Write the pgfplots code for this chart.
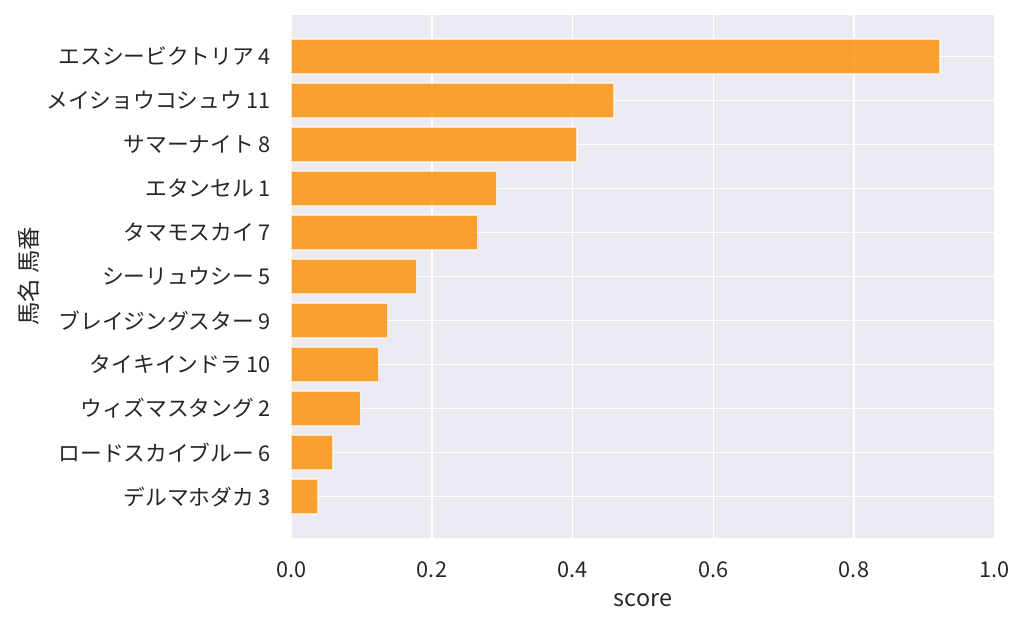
\documentclass[border=0pt]{standalone}
\usepackage{fontspec}
\setmainfont{Noto Sans CJK JP}
\usepackage{pgfplots}
\pgfplotsset{compat=1.18}
\definecolor{bgc}{RGB}{234,234,242}
\definecolor{barc}{RGB}{252,147,17}
\definecolor{txtc}{RGB}{38,38,38}
\begin{document}
\begin{tikzpicture}[x=1pt,y=1pt]
\path[use as bounding box] (0,0) rectangle (768,470.25);
\begin{axis}[
  at={(218.5pt,66.75pt)}, anchor=south west,
  scale only axis, width=527.5pt, height=392.25pt,
  xmin=0, xmax=1, ymin=-0.94, ymax=10.94, y dir=reverse,
  xbar, bar width=0.8,
  axis background/.style={fill=bgc},
  axis line style={draw=none},
  major tick length=0pt,
  grid=major, major grid style={white, line width=1.1pt},
  xtick={0,0.2,0.4,0.6,0.8,1.0},
  xticklabels={0.0,0.2,0.4,0.6,0.8,1.0},
  ytick={0,1,2,3,4,5,6,7,8,9,10},
  yticklabels={{エスシービクトリア 4},{メイショウコシュウ 11},{サマーナイト 8},{エタンセル 1},{タマモスカイ 7},{シーリュウシー 5},{ブレイジングスター 9},{タイキインドラ 10},{ウィズマスタング 2},{ロードスカイブルー 6},{デルマホダカ 3}},
  ticklabel style={font=\fontsize{16.3}{19}\selectfont, text=txtc},
  xticklabel style={anchor=center, inner sep=0pt, yshift=-23.5pt},
  yticklabel style={anchor=east, inner sep=0pt, xshift=-15pt},
  label style={font=\fontsize{17.5}{21}\selectfont, text=txtc},
  xlabel={score},
  ylabel={馬名 馬番},
  xlabel style={at={(axis description cs:0.5,-0.1185)}, anchor=center},
  ylabel style={at={(axis description cs:-0.3736,0.5)}, anchor=center},
]
\addplot[fill=barc, fill opacity=0.85, draw=white, draw opacity=0.65, line width=1.1pt] coordinates {
(0.922,0) (0.459,1) (0.406,2) (0.292,3) (0.265,4) (0.178,5)
(0.137,6) (0.124,7) (0.098,8) (0.059,9) (0.038,10)};
\end{axis}
\end{tikzpicture}
\end{document}
